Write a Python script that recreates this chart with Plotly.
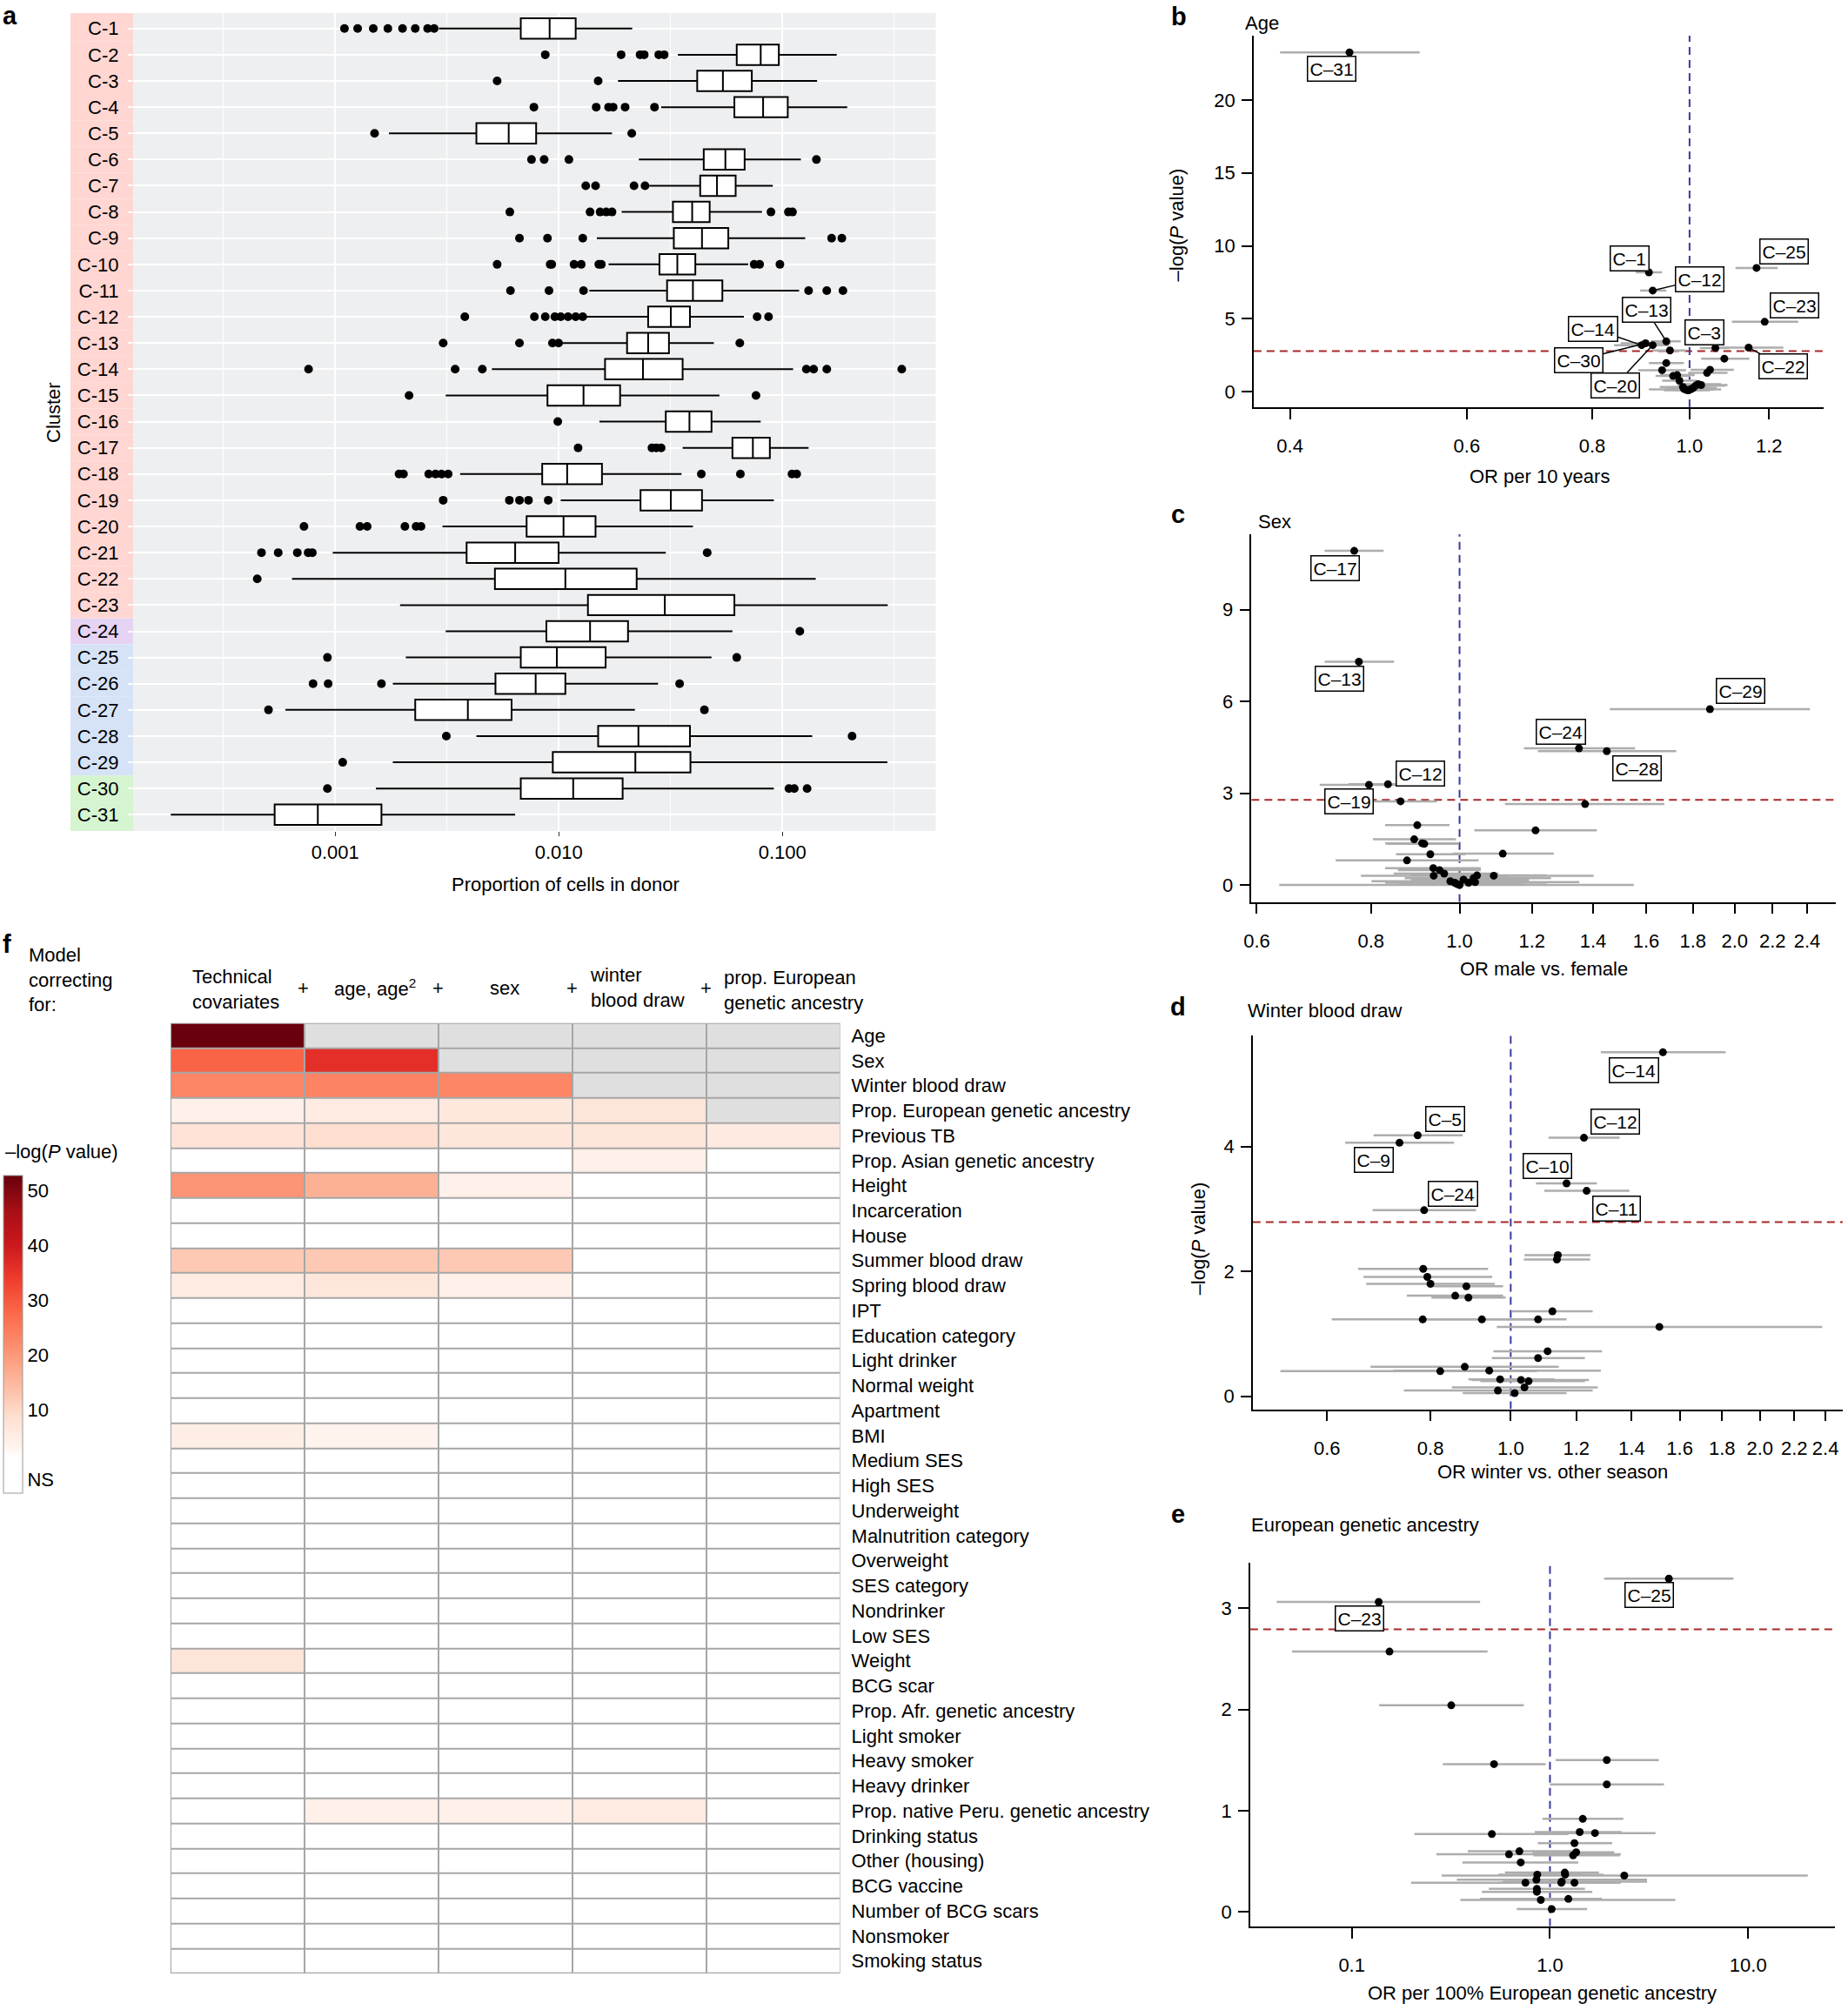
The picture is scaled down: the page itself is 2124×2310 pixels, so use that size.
import math
import plotly.graph_objects as go

W, H = 2124, 2310
FONT = "Liberation Sans, Arial, Helvetica, sans-serif"
FS = 22

# ---------------- Panel a: proportion of cells per donor ----------------
clusters = ["C-1", "C-2", "C-3", "C-4", "C-5", "C-6", "C-7", "C-8", "C-9", "C-10",
            "C-11", "C-12", "C-13", "C-14", "C-15", "C-16", "C-17", "C-18", "C-19", "C-20",
            "C-21", "C-22", "C-23", "C-24", "C-25", "C-26", "C-27", "C-28", "C-29", "C-30", "C-31"]
cluster_group = ["g1", "g1", "g1", "g1", "g1", "g1", "g1", "g1", "g1", "g1",
                 "g1", "g1", "g1", "g1", "g1", "g1", "g1", "g1", "g1", "g1",
                 "g1", "g1", "g1", "g2", "g3", "g3", "g3", "g3", "g3", "g4", "g4"]
box_q1 = [0.00676, 0.0625, 0.0416, 0.061, 0.00428, 0.0445, 0.0429, 0.0324, 0.0327, 0.0282,
          0.0305, 0.0251, 0.0202, 0.0161, 0.0089, 0.0301, 0.0598, 0.00843, 0.0232, 0.00718,
          0.00387, 0.00518, 0.0135, 0.0088, 0.00676, 0.00521, 0.00228, 0.015, 0.0094, 0.00676, 0.000536]
box_median = [0.0091, 0.080, 0.0542, 0.082, 0.00597, 0.0556, 0.0510, 0.0395, 0.0437, 0.0339,
              0.0398, 0.0317, 0.0251, 0.0238, 0.0129, 0.0384, 0.0738, 0.0109, 0.0317, 0.0105,
              0.00638, 0.0107, 0.0298, 0.0138, 0.0098, 0.00788, 0.00392, 0.0227, 0.022, 0.0116, 0.000836]
box_q3 = [0.0119, 0.0964, 0.073, 0.1057, 0.00792, 0.0678, 0.0618, 0.0473, 0.0573, 0.0408,
          0.0539, 0.0386, 0.0311, 0.0358, 0.0188, 0.0482, 0.0879, 0.0156, 0.0437, 0.0146,
          0.00998, 0.0223, 0.061, 0.0204, 0.0162, 0.0107, 0.00615, 0.0386, 0.0388, 0.0193, 0.00161]
box_lower = [0.00291, 0.0341, 0.0184, 0.0287, 0.00174, 0.0228, 0.0254, 0.0191, 0.0148, 0.0167,
             0.0137, 0.0132, 0.0104, 0.00502, 0.00312, 0.0152, 0.0358, 0.00362, 0.0102, 0.00302,
             0.000975, 0.000641, 0.00195, 0.00312, 0.00207, 0.00181, 0.000599, 0.00428, 0.00181, 0.00152, 0.000184]
box_upper = [0.0213, 0.175, 0.143, 0.195, 0.0173, 0.121, 0.0906, 0.0811, 0.1265, 0.0703,
             0.1188, 0.0673, 0.0494, 0.1117, 0.0523, 0.080, 0.131, 0.0354, 0.0916, 0.0398,
             0.0301, 0.141, 0.296, 0.0598, 0.0482, 0.0278, 0.0219, 0.136, 0.295, 0.0916, 0.00638]
box_outliers = [
    [0.0011, 0.00126, 0.00148, 0.00172, 0.0020, 0.00228, 0.00259, 0.00277],
    [0.0087, 0.019, 0.0231, 0.0241, 0.028, 0.0296],
    [0.0053, 0.015],
    [0.00774, 0.0147, 0.0167, 0.0175, 0.0198, 0.0268],
    [0.0015, 0.0212],
    [0.00755, 0.0086, 0.0111, 0.142],
    [0.0132, 0.0146, 0.0217, 0.0243],
    [0.00604, 0.0138, 0.0153, 0.0163, 0.0173, 0.0889, 0.1064, 0.111],
    [0.00667, 0.0089, 0.0128, 0.166, 0.1845],
    [0.0053, 0.00915, 0.0093, 0.0117, 0.0126, 0.0151, 0.0155, 0.0748, 0.0791, 0.0975],
    [0.00608, 0.00904, 0.0129, 0.131, 0.158, 0.1866],
    [0.0038, 0.00778, 0.0087, 0.0096, 0.0102, 0.011, 0.0119, 0.0128, 0.0771, 0.0867],
    [0.00304, 0.00667, 0.00937, 0.00998, 0.0645],
    [0.00076, 0.00344, 0.00455, 0.128, 0.138, 0.158, 0.342],
    [0.00214, 0.0762],
    [0.0099],
    [0.0122, 0.0261, 0.0273, 0.0287],
    [0.00193, 0.00202, 0.00262, 0.00281, 0.00299, 0.0032, 0.0434, 0.0649, 0.1104, 0.1159],
    [0.00304, 0.00601, 0.00667, 0.00732, 0.00897],
    [0.000725, 0.00129, 0.00139, 0.00205, 0.0023, 0.00242],
    [0.000468, 0.000556, 0.000677, 0.000757, 0.00079, 0.0461],
    [0.000448],
    [],
    [0.1197],
    [0.000923, 0.0625],
    [0.000796, 0.00093, 0.00161, 0.0347],
    [0.000503, 0.0448],
    [0.00314, 0.205],
    [0.00108],
    [0.000923, 0.107, 0.113, 0.129],
    [],
]
a_tick_vals = [0.001, 0.01, 0.1]
a_tick_text = ["0.001", "0.010", "0.100"]

# ---------------- Panel b: Age ----------------
b_label = ["C-31", "C-1", "C-12", "C-25", "C-23", "C-13", "C-14", "C-30", "C-20", "C-3", "C-22",
           "", "", "", "", "", "", "", "", "", "", "", "", "", "", "", "", "", "", "", ""]
b_or = [0.4585, 0.911, 0.919, 1.166, 1.188, 0.948, 0.896, 0.904, 0.919, 1.061, 1.145,
        0.956, 1.083, 0.948, 0.939, 1.048, 1.041, 0.963, 0.972, 0.977, 0.985,
        0.990, 0.995, 1.002, 1.009, 1.014, 1.020, 1.027, 0.987, 1.005, 0.998]
b_lo = [0.391, 0.884, 0.893, 1.111, 1.102, 0.916, 0.841, 0.854, 0.889, 1.024, 1.053,
        0.920, 1.027, 0.911, 0.889, 1.002, 0.997, 0.925, 0.934, 0.939, 0.934,
        0.911, 0.943, 0.948, 0.963, 0.972, 0.982, 0.987, 0.953, 0.953, 0.963]
b_hi = [0.5385, 0.939, 0.948, 1.224, 1.283, 0.980, 0.953, 0.958, 0.953, 1.096, 1.240,
        0.992, 1.147, 0.987, 0.992, 1.107, 1.091, 1.002, 1.012, 1.017, 1.043,
        1.075, 1.048, 1.059, 1.064, 1.085, 1.075, 1.091, 1.027, 1.053, 1.032]
b_nlp = [23.26, 8.19, 6.94, 8.49, 4.80, 3.46, 3.20, 3.33, 3.20, 3.01, 3.03,
         2.84, 2.28, 1.98, 1.49, 1.52, 1.30, 1.09, 1.15, 0.77, 0.34,
         0.17, 0.11, 0.17, 0.28, 0.43, 0.53, 0.47, 0.21, 0.21, 0.13]
b_ticks = [0.4, 0.6, 0.8, 1.0, 1.2]
b_yticks = [0, 5, 10, 15, 20]

# ---------------- Panel c: Sex ----------------
c_label = ["C-17", "C-13", "C-29", "C-24", "C-28", "C-12", "C-19",
           "", "", "", "", "", "", "", "", "", "", "", "", "", "", "", "", "", "", "", "", "", "", "", ""]
c_or = [0.767, 0.776, 1.879, 1.351, 1.449, 0.835, 0.796,
        0.862, 1.372, 0.899, 1.211, 0.892, 0.910, 0.915, 0.929, 1.115, 0.876, 0.936, 0.951, 0.962,
        0.937, 1.090, 1.045, 1.036, 0.977, 0.988, 1.000, 1.023, 1.040, 0.993, 1.010]
c_lo = [0.712, 0.712, 1.460, 1.176, 1.218, 0.756, 0.703,
        0.788, 1.121, 0.829, 1.038, 0.804, 0.829, 0.833, 0.852, 0.983, 0.732, 0.829, 0.856, 0.847,
        0.780, 0.945, 0.885, 0.871, 0.801, 0.829, 0.635, 0.856, 0.885, 0.866, 0.885]
c_hi = [0.826, 0.848, 2.417, 1.556, 1.726, 0.925, 0.905,
        0.945, 1.675, 0.975, 1.413, 0.991, 0.997, 0.999, 1.015, 1.268, 1.049, 1.055, 1.055, 1.103,
        1.127, 1.402, 1.245, 1.259, 1.191, 1.178, 1.551, 1.245, 1.352, 1.152, 1.191]
c_nlp = [10.92, 7.30, 5.75, 4.47, 4.38, 3.30, 3.28,
         2.74, 2.65, 1.96, 1.79, 1.50, 1.37, 1.35, 1.01, 1.03, 0.81, 0.56, 0.49, 0.38,
         0.31, 0.31, 0.32, 0.23, 0.13, 0.08, 0.01, 0.08, 0.10, 0.04, 0.18]
c_ticks = [0.6, 0.8, 1.0, 1.2, 1.4, 1.6, 1.8, 2.0, 2.2, 2.4]
c_yticks = [0, 3, 6, 9]

# ---------------- Panel d: Winter blood draw ----------------
d_label = ["C-14", "C-5", "C-9", "C-12", "C-10", "C-11", "C-24",
           "", "", "", "", "", "", "", "", "", "", "", "", "", "", "", "", "", "", "", "", "", "", "", ""]
d_or = [1.527, 0.772, 0.734, 1.226, 1.168, 1.235, 0.786,
        1.140, 1.137, 0.784, 0.793, 0.800, 0.884, 0.857, 0.889, 1.123, 0.783, 0.923, 1.079, 1.512,
        1.108, 1.079, 0.880, 0.822, 0.942, 0.971, 1.029, 1.051, 1.039, 0.965, 1.011]
d_lo = [1.285, 0.683, 0.631, 1.111, 1.073, 1.098, 0.681,
        1.039, 1.037, 0.654, 0.664, 0.669, 0.794, 0.749, 0.802, 1.004, 0.608, 0.794, 0.988, 0.962,
        0.953, 0.949, 0.677, 0.527, 0.721, 0.889, 0.897, 0.919, 0.849, 0.743, 0.875]
d_hi = [1.818, 0.875, 0.854, 1.354, 1.271, 1.391, 0.908,
        1.248, 1.247, 0.939, 0.950, 0.957, 0.979, 0.979, 0.986, 1.256, 1.000, 1.075, 1.168, 2.378,
        1.289, 1.229, 1.143, 1.075, 1.285, 1.129, 1.243, 1.229, 1.274, 1.256, 1.168]
d_nlp = [5.51, 4.18, 4.06, 4.14, 3.41, 3.29, 2.98,
         2.26, 2.19, 2.04, 1.91, 1.80, 1.76, 1.61, 1.58, 1.36, 1.23, 1.23, 1.23, 1.11,
         0.72, 0.61, 0.47, 0.40, 0.41, 0.27, 0.26, 0.24, 0.14, 0.09, 0.05]
d_ticks = [0.6, 0.8, 1.0, 1.2, 1.4, 1.6, 1.8, 2.0, 2.2, 2.4]
d_yticks = [0, 2, 4]

# ---------------- Panel e: European genetic ancestry ----------------
e_label = ["C-25", "C-23", "", "", "", "", "", "", "", "", "", "", "", "", "", "",
           "", "", "", "", "", "", "", "", "", "", "", "", "", "", ""]
e_or = [3.98, 0.1367, 0.155, 0.3176, 0.522, 1.935, 1.935, 1.464, 0.509, 1.413, 1.687,
        1.329, 0.701, 0.621, 1.356, 1.309, 0.712, 2.371, 1.188, 1.193, 0.863,
        0.854, 0.752, 1.141, 1.329, 0.859, 0.859, 0.899, 1.238, 1.020, 1.146]
e_lo = [1.877, 0.0418, 0.050, 0.1373, 0.288, 1.068, 1.0, 0.917, 0.207, 0.837, 0.868,
        0.868, 0.385, 0.267, 0.816, 0.824, 0.362, 0.284, 0.593, 0.784, 0.549,
        0.339, 0.199, 0.549, 0.673, 0.491, 0.453, 0.353, 0.444, 0.68, 0.578]
e_hi = [8.44, 0.444, 0.484, 0.738, 0.951, 3.54, 3.76, 2.346, 1.238, 2.30, 3.41,
        2.06, 1.37, 2.276, 2.11, 2.253, 1.391, 20.0, 1.766, 1.858, 1.516,
        3.087, 1.766, 1.858, 2.276, 1.501, 1.636, 4.295, 1.83, 1.54, 3.087]
e_nlp = [3.29, 3.06, 2.57, 2.04, 1.46, 1.50, 1.26, 0.92, 0.77, 0.79, 0.78,
         0.68, 0.60, 0.57, 0.59, 0.56, 0.49, 0.36, 0.39, 0.37, 0.37,
         0.32, 0.29, 0.29, 0.29, 0.23, 0.20, 0.12, 0.13, 0.03, 0.30]
e_ticks = [0.1, 1.0, 10.0]
e_ticktext = ["0.1", "1.0", "10.0"]
e_yticks = [0, 1, 2, 3]

sig_threshold = 2.79

# ---------------- Panel f: heatmap ----------------
NS = None
NA = "NA"
heat_columns = ["Technical covariates", "+ age, age2", "+ sex", "+ winter blood draw",
                "+ prop. European genetic ancestry"]
heat_rows = ["Age", "Sex", "Winter blood draw", "Prop. European genetic ancestry", "Previous TB",
             "Prop. Asian genetic ancestry", "Height", "Incarceration", "House", "Summer blood draw",
             "Spring blood draw", "IPT", "Education category", "Light drinker", "Normal weight",
             "Apartment", "BMI", "Medium SES", "High SES", "Underweight", "Malnutrition category",
             "Overweight", "SES category", "Nondrinker", "Low SES", "Weight", "BCG scar",
             "Prop. Afr. genetic ancestry", "Light smoker", "Heavy smoker", "Heavy drinker",
             "Prop. native Peru. genetic ancestry", "Drinking status", "Other (housing)",
             "BCG vaccine", "Number of BCG scars", "Nonsmoker", "Smoking status"]
heat_values = [
    [52.5, NA, NA, NA, NA],
    [28.3, 36.0, NA, NA, NA],
    [23.0, 23.5, 23.0, NA, NA],
    [4.3, 5.6, 6.4, 7.2, NA],
    [7.7, 8.7, 6.9, 6.9, 5.9],
    [NS, NS, NS, 4.3, NS],
    [20.5, 16.1, 4.3, NS, NS],
    [NS, NS, NS, NS, NS],
    [NS, NS, NS, NS, NS],
    [12.2, 12.2, 12.2, NS, NS],
    [5.6, 6.9, 4.3, NS, NS],
    [NS, NS, NS, NS, NS],
    [NS, NS, NS, NS, NS],
    [NS, NS, NS, NS, NS],
    [NS, NS, NS, NS, NS],
    [NS, NS, NS, NS, NS],
    [4.8, 3.5, NS, NS, NS],
    [NS, NS, NS, NS, NS],
    [NS, NS, NS, NS, NS],
    [NS, NS, NS, NS, NS],
    [NS, NS, NS, NS, NS],
    [NS, NS, NS, NS, NS],
    [NS, NS, NS, NS, NS],
    [NS, NS, NS, NS, NS],
    [NS, NS, NS, NS, NS],
    [7.2, NS, NS, NS, NS],
    [NS, NS, NS, NS, NS],
    [NS, NS, NS, NS, NS],
    [NS, NS, NS, NS, NS],
    [NS, NS, NS, NS, NS],
    [NS, NS, NS, NS, NS],
    [NS, 4.3, 4.3, 5.6, NS],
    [NS, NS, NS, NS, NS],
    [NS, NS, NS, NS, NS],
    [NS, NS, NS, NS, NS],
    [NS, NS, NS, NS, NS],
    [NS, NS, NS, NS, NS],
    [NS, NS, NS, NS, NS],
]
cbar_tickvals = [-2.7, 10, 20, 30, 40, 50]
cbar_ticktext = ["NS", "10", "20", "30", "40", "50"]

# ======================= styling / layout =======================
GROUP_COLORS = {"g1": "#FFD6D2", "g2": "#E6D3F3", "g3": "#D6E3F7", "g4": "#D5F4D0"}
PANEL_BG = "#EEEFF1"
CI_COLOR = "#ADADAD"
RED = "#A82828"
BLUE = "#3A3AA0"

fig = go.Figure()
annotations = []
shapes = []


def X(px):
    # small horizontal alignment correction (larger near the left edge)
    return (px - 8.0 * (1 - px / W)) / W


def Y(py):
    return 1 - py / H


def add_text(text, x, y, size=FS, xanchor="center", yanchor="middle", angle=0, align="left"):
    annotations.append(dict(text=text, x=X(x), y=Y(y), xref="paper", yref="paper",
                            xanchor=xanchor, yanchor=yanchor, showarrow=False, textangle=angle,
                            align=align, font=dict(size=size, family=FONT, color="black")))


# ---- Panel a traces ----
fig.add_trace(go.Box(
    y=clusters, q1=box_q1, median=box_median, q3=box_q3,
    lowerfence=box_lower, upperfence=box_upper, orientation="h",
    fillcolor="white", line=dict(color="black", width=2), whiskerwidth=0,
    boxpoints=False, width=0.78, xaxis="x", yaxis="y", hoverinfo="skip", showlegend=False))
out_x, out_y = [], []
for c, vals in zip(clusters, box_outliers):
    for v in vals:
        out_x.append(v)
        out_y.append(c)
fig.add_trace(go.Scatter(x=out_x, y=out_y, mode="markers", marker=dict(color="black", size=10),
                         xaxis="x", yaxis="y", hoverinfo="skip", showlegend=False))

n_cl = len(clusters)
for i, g in enumerate(cluster_group):
    y0 = -0.59 if i == 0 else i - 0.5
    y1 = n_cl - 1 + 0.62 if i == n_cl - 1 else i + 0.5
    shapes.append(dict(type="rect", xref="paper", yref="y", x0=X(80), x1=X(152), y0=y0, y1=y1,
                       fillcolor=GROUP_COLORS[g], line=dict(width=0), layer="below"))
shapes.append(dict(type="rect", xref="x domain", yref="y domain", x0=0, x1=1, y0=0, y1=1,
                   fillcolor=PANEL_BG, line=dict(width=0), layer="below"))

layout_axes = {}
layout_axes["xaxis"] = dict(
    domain=[X(152), X(1075)], anchor="y", type="log", range=[-3.904, -0.314],
    tickvals=a_tick_vals, ticktext=a_tick_text, showgrid=True, gridcolor="white", gridwidth=2,
    zeroline=False, showline=False, ticks="outside", ticklen=5, tickcolor="#333333",
    minor=dict(tickvals=[10 ** -3.5, 10 ** -2.5, 10 ** -1.5, 10 ** -0.5], showgrid=True,
               gridcolor="white", gridwidth=1, ticks=""),
    tickfont=dict(size=FS))
layout_axes["yaxis"] = dict(
    domain=[Y(955), Y(15)], anchor="x", type="category", categoryorder="array",
    categoryarray=clusters, range=[n_cl - 1 + 0.62, -0.59], showgrid=True, gridcolor="white",
    gridwidth=2, ticks="outside", ticklen=5, tickwidth=2, tickcolor="white",
    ticklabelstandoff=6, zeroline=False, tickfont=dict(size=FS))

add_text("<b>a</b>", 0, 0, size=29, xanchor="left", yanchor="top")
add_text("Proportion of cells in donor", 649, 1016)
add_text("Cluster", 61, 474, angle=-90)


# ---- Volcano panels ----
def add_volcano(n, labels, ors, lo, hi, nlp, xr, yr, xdom, ydom, xticks, xticktext, yticks, offsets):
    xa, ya = "x%d" % n, "y%d" % n
    fig.add_trace(go.Scatter(x=[10 ** xr[0], 10 ** xr[1]], y=[sig_threshold, sig_threshold], mode="lines",
                             line=dict(color=RED, width=2, dash="9px,6px"), xaxis=xa, yaxis=ya,
                             hoverinfo="skip", showlegend=False))
    fig.add_trace(go.Scatter(x=[1.0, 1.0], y=[yr[0], yr[1]], mode="lines",
                             line=dict(color=BLUE, width=2, dash="9px,6px"), xaxis=xa, yaxis=ya,
                             hoverinfo="skip", showlegend=False))
    fig.add_trace(go.Scatter(
        x=ors, y=nlp, mode="markers", marker=dict(color="black", size=9),
        error_x=dict(type="data", symmetric=False, array=[h - o for h, o in zip(hi, ors)],
                     arrayminus=[o - l for o, l in zip(ors, lo)], color=CI_COLOR, thickness=2.5, width=0),
        xaxis=xa, yaxis=ya, hoverinfo="skip", showlegend=False))
    layout_axes["xaxis%d" % n] = dict(
        domain=xdom, anchor=ya, type="log", range=xr, tickvals=xticks, ticktext=xticktext,
        showline=True, linecolor="black", linewidth=1.5, ticks="outside", ticklen=12, tickwidth=1.5,
        tickcolor="black", showgrid=False, zeroline=False, ticklabelstandoff=12, tickfont=dict(size=FS))
    layout_axes["yaxis%d" % n] = dict(
        domain=ydom, anchor=xa, range=yr, tickvals=yticks, showline=True, linecolor="black",
        linewidth=1.5, ticks="outside", ticklen=12, tickwidth=1.5, tickcolor="black", showgrid=False,
        zeroline=False, ticklabelstandoff=3, tickfont=dict(size=FS))
    for name, o, p in zip(labels, ors, nlp):
        if not name:
            continue
        dx, dy, line = offsets[name]
        ann = dict(x=math.log10(o), y=p, xref=xa, yref=ya, text=name.replace("-", "\u2013"),
                   font=dict(size=21, family=FONT, color="black"), bgcolor="white",
                   bordercolor="black", borderwidth=1.5, borderpad=2)
        if line:
            ann.update(showarrow=True, ax=dx, ay=dy, arrowhead=0, arrowwidth=1.5,
                       arrowcolor="black", standoff=4)
        else:
            ann.update(showarrow=False, xshift=dx, yshift=-dy)
        annotations.append(ann)


b_offsets = {"C-31": (-21, 19, False), "C-1": (-22, -16, False), "C-12": (54, -13, True),
             "C-25": (32, -19, False), "C-23": (34, -19, False), "C-13": (-23, -36, True),
             "C-14": (-56, -19, True), "C-3": (-13, -18, False), "C-30": (-77, 19, True),
             "C-22": (40, 21, True), "C-20": (-43, 46, True)}
c_offsets = {"C-17": (-22, 20, False), "C-13": (-22, 20, False), "C-29": (35, -21, False),
             "C-24": (-21, -19, False), "C-28": (35, 20, False), "C-12": (37, -12, False),
             "C-19": (-23, 19, False)}
d_offsets = {"C-14": (-33, 21, False), "C-5": (32, -19, False), "C-9": (-30, 20, False),
             "C-12": (36, -19, False), "C-10": (-22, -20, False), "C-11": (34, 20, False),
             "C-24": (33, -19, False)}
e_offsets = {"C-25": (-23, 19, False), "C-23": (-22, 19, False)}

add_volcano(2, b_label, b_or, b_lo, b_hi, b_nlp, [math.log10(0.368), math.log10(1.36)], [-1.05, 24.4],
            [X(1440.5), X(2096)], [Y(468), Y(41)], b_ticks, ["%.1f" % v for v in b_ticks], b_yticks, b_offsets)
add_volcano(3, c_label, c_or, c_lo, c_hi, c_nlp, [math.log10(0.592), math.log10(2.58)], [-0.55, 11.47],
            [X(1438), X(2110)], [Y(1036.7), Y(613.7)], c_ticks, ["%.1f" % v for v in c_ticks], c_yticks, c_offsets)
add_volcano(4, d_label, d_or, d_lo, d_hi, d_nlp, [math.log10(0.488), math.log10(2.518)], [-0.21, 5.78],
            [X(1439.5), X(2118)], [Y(1619.6), Y(1190)], d_ticks, ["%.1f" % v for v in d_ticks], d_yticks, d_offsets)
add_volcano(5, e_label, e_or, e_lo, e_hi, e_nlp, [-1.513, 1.438], [-0.14, 3.45],
            [X(1436.5), X(2109)], [Y(2213.8), Y(1795.6)], e_ticks, e_ticktext, e_yticks, e_offsets)

add_text("<b>b</b>", 1344, 1, size=29, xanchor="left", yanchor="top")
add_text("<b>c</b>", 1344, 591, size=29, xanchor="left")
add_text("<b>d</b>", 1343, 1157, size=29, xanchor="left")
add_text("<b>e</b>", 1344, 1740, size=29, xanchor="left")
add_text("Age", 1429, 27, xanchor="left")
add_text("Sex", 1444, 599, xanchor="left")
add_text("Winter blood draw", 1432, 1161, xanchor="left")
add_text("European genetic ancestry", 1436, 1752, xanchor="left")
add_text("OR per 10 years", 1769, 547)
add_text("OR male vs. female", 1774, 1113)
add_text("OR winter vs. other season", 1784, 1691)
add_text("OR per 100% European genetic ancestry", 1772, 2290)
add_text("\u2013log(<i>P</i> value)", 1352, 258, angle=-90)
add_text("\u2013log(<i>P</i> value)", 1377, 1423, angle=-90)

# ---- Heatmap ----
NS_FILL = 0.0
z_val = [[None if v == NA else (NS_FILL if v is None else v) for v in row] for row in heat_values]
z_na = [[1 if v == NA else None for v in row] for row in heat_values]
cols_idx = list(range(len(heat_columns)))
rows_idx = list(range(len(heat_rows)))
zmin, zmax = -5.2, 52.7
reds = [[0.0, "#FFFFFF"], [0.1157, "#FFFFFF"], [0.1416, "#FFF5F0"], [0.2366, "#FEE0D2"],
        [0.3402, "#FCBBA1"], [0.4525, "#FC9272"], [0.5648, "#FB6A4A"], [0.677, "#EF3B2C"],
        [0.7807, "#CB181D"], [0.8929, "#A50F15"], [1.0, "#67000D"]]
fig.add_trace(go.Heatmap(x=cols_idx, y=rows_idx, z=z_na, colorscale=[[0, "#DFDFDF"], [1, "#DFDFDF"]],
                         zmin=0, zmax=1, showscale=False, xgap=2, ygap=2, xaxis="x6", yaxis="y6",
                         hoverinfo="skip"))
fig.add_trace(go.Heatmap(
    x=cols_idx, y=rows_idx, z=z_val, colorscale=reds, zmin=zmin, zmax=zmax, xgap=2, ygap=2,
    xaxis="x6", yaxis="y6", hoverinfo="skip",
    colorbar=dict(x=X(3), xanchor="left", xref="paper", y=Y(1533.5), yanchor="middle", yref="paper",
                  len=365, lenmode="pixels", thickness=22, thicknessmode="pixels",
                  outlinecolor="#9A9A9A", outlinewidth=1, tickvals=cbar_tickvals, ticktext=cbar_ticktext,
                  ticks="", tickfont=dict(size=FS, family=FONT, color="black"), xpad=0, ypad=0)))
shapes.append(dict(type="rect", xref="x6 domain", yref="y6 domain", x0=0, x1=1, y0=0, y1=1,
                   fillcolor="#A6A6A6", line=dict(width=0), layer="below"))
layout_axes["xaxis6"] = dict(domain=[X(195), X(965)], anchor="y6", range=[-0.5, len(heat_columns) - 0.5],
                             showticklabels=False, showgrid=False, zeroline=False, ticks="")
layout_axes["yaxis6"] = dict(domain=[Y(2268), Y(1175.7)], anchor="x6", side="right",
                             range=[len(heat_rows) - 0.5, -0.5], tickvals=rows_idx, ticktext=heat_rows,
                             showgrid=False, zeroline=False, ticks="", ticklabelstandoff=12,
                             tickfont=dict(size=FS))

add_text("<b>f</b>", 0, 1085, size=29, xanchor="left")
add_text("Model<br>correcting<br>for:", 30, 1126, xanchor="left")
add_text("Technical<br>covariates", 218, 1137, xanchor="left")
add_text("+", 348, 1135)
add_text("age, age<sup>2</sup>", 381, 1135, xanchor="left")
add_text("+", 503, 1135)
add_text("sex", 579, 1135)
add_text("+", 657, 1135)
add_text("winter<br>blood draw", 675, 1135, xanchor="left")
add_text("+", 811, 1135)
add_text("prop. European<br>genetic ancestry", 829, 1138, xanchor="left")
add_text("\u2013log(<i>P</i> value)", 3, 1323, xanchor="left")

fig.update_layout(width=W, height=H, margin=dict(l=0, r=0, t=0, b=0), paper_bgcolor="white",
                  plot_bgcolor="white", showlegend=False,
                  font=dict(family=FONT, size=FS, color="black"),
                  annotations=annotations, shapes=shapes, **layout_axes)
fig.write_html("out.html", config={"displayModeBar": False},
               post_script="document.body.style.margin='0px';")
